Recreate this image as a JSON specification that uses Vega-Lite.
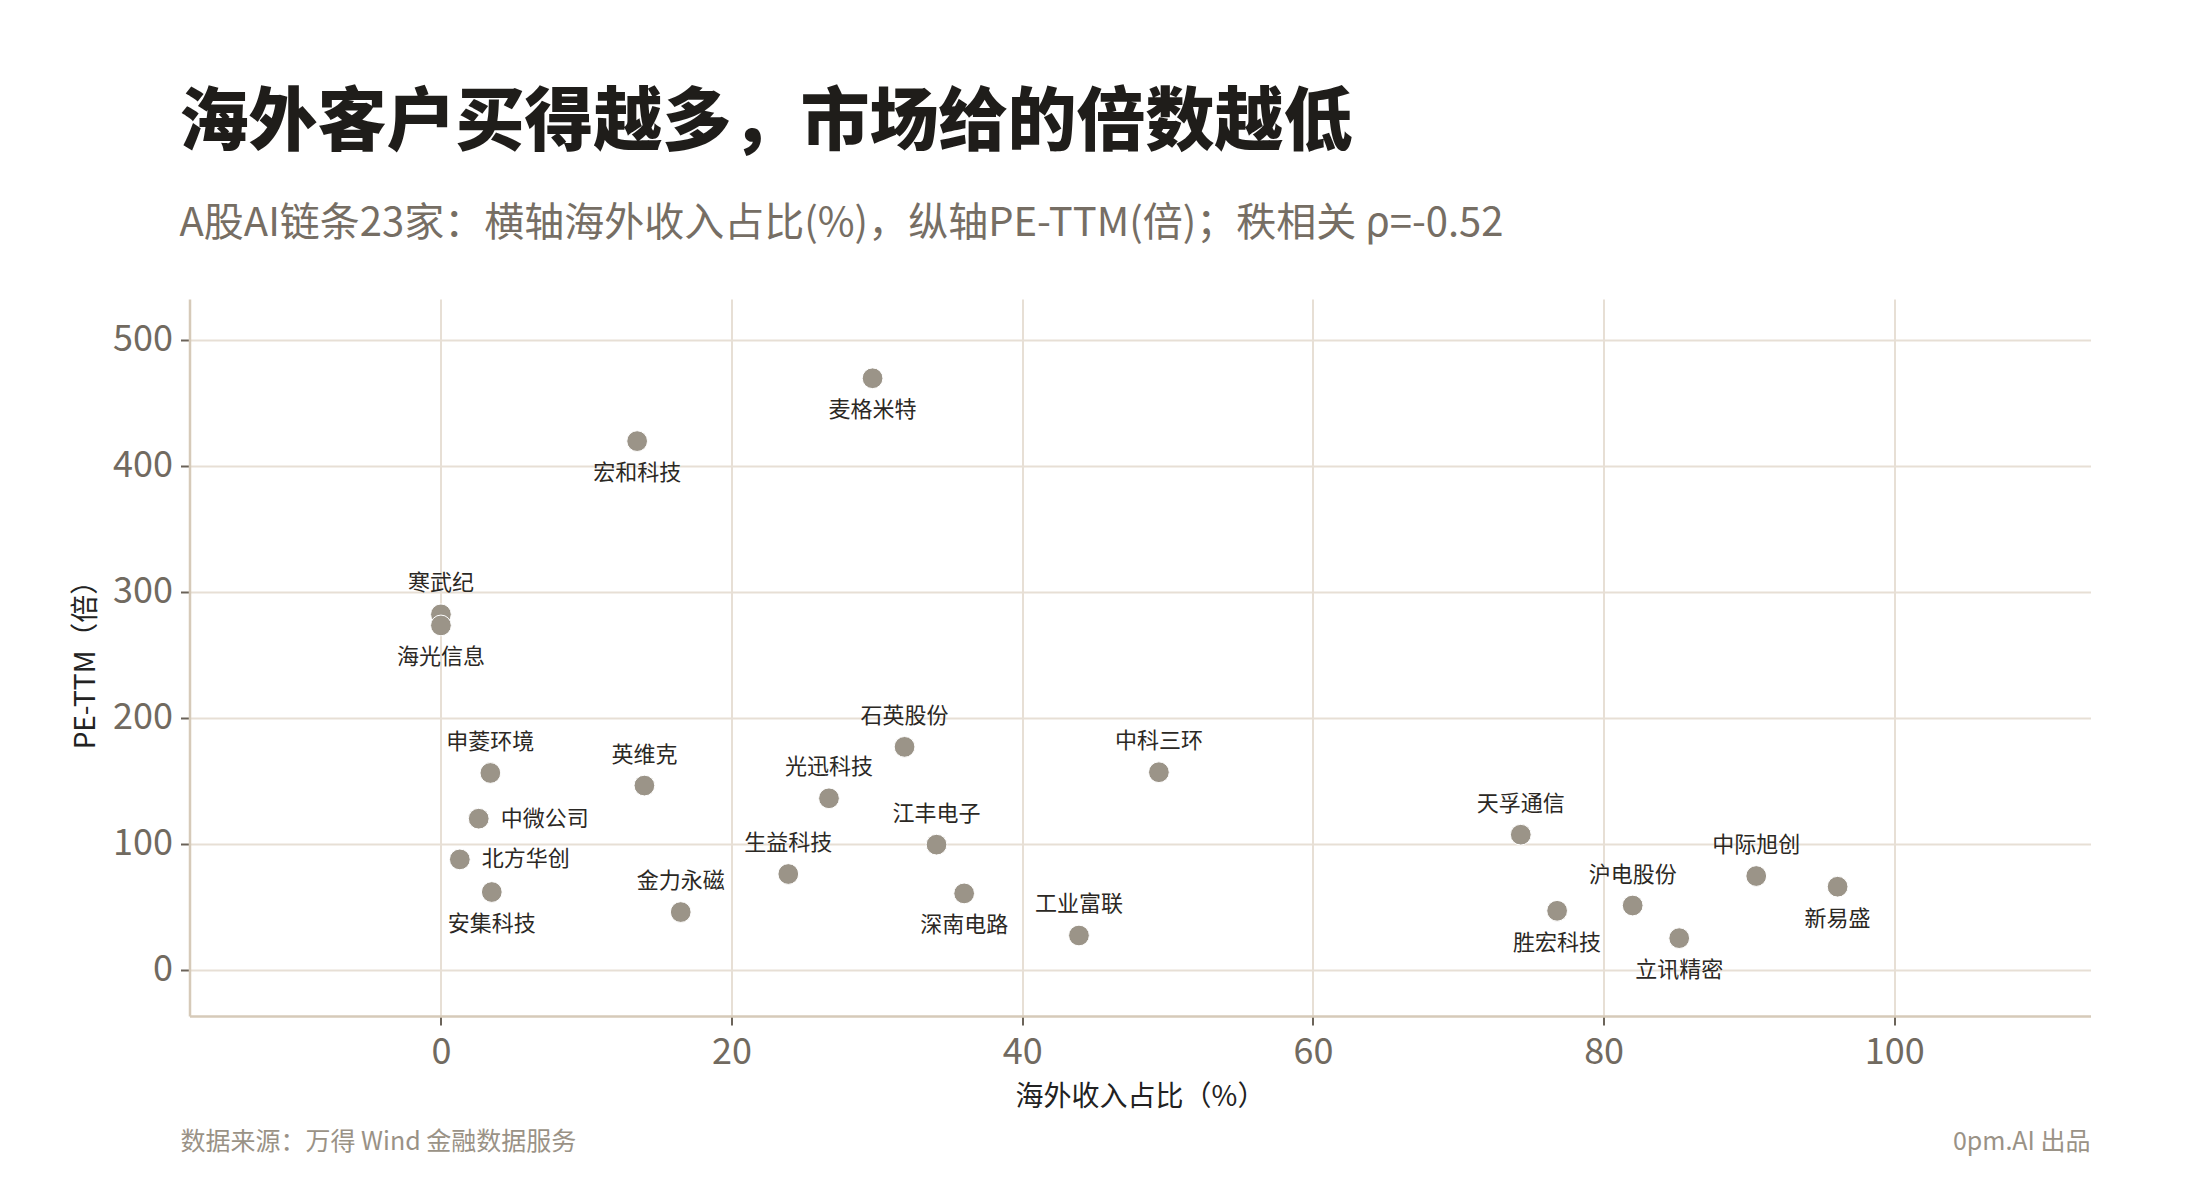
{
  "$schema": "https://vega.github.io/schema/vega-lite/v6.json",
  "autosize": "none",
  "width": 1901,
  "height": 717,
  "padding": {"left": 189.5, "top": 299, "right": 109.5, "bottom": 184},
  "background": "#ffffff",
  "title": {
    "text": "海外客户买得越多，市场给的倍数越低",
    "subtitle": "A股AI链条23家：横轴海外收入占比(%)，纵轴PE-TTM(倍)；秩相关 ρ=-0.52",
    "anchor": "start",
    "frame": "group",
    "dx": -10,
    "offset": 55,
    "fontSize": 69,
    "fontWeight": 900,
    "color": "#1f1d1a",
    "subtitleFontSize": 40,
    "subtitleColor": "#766e64",
    "subtitlePadding": 45
  },
  "datasets": {
    "stocks": [
      {"name": "麦格米特", "overseas": 29.7, "pe": 469.6},
      {"name": "宏和科技", "overseas": 13.5, "pe": 419.7},
      {"name": "寒武纪", "overseas": 0.0, "pe": 282.2},
      {"name": "海光信息", "overseas": 0.0, "pe": 273.4},
      {"name": "申菱环境", "overseas": 3.4, "pe": 156.3},
      {"name": "中微公司", "overseas": 2.6, "pe": 120.0},
      {"name": "北方华创", "overseas": 1.3, "pe": 87.7},
      {"name": "安集科技", "overseas": 3.5, "pe": 61.8},
      {"name": "英维克", "overseas": 14.0, "pe": 146.3},
      {"name": "金力永磁", "overseas": 16.5, "pe": 45.9},
      {"name": "生益科技", "overseas": 23.9, "pe": 76.1},
      {"name": "光迅科技", "overseas": 26.7, "pe": 136.2},
      {"name": "石英股份", "overseas": 31.9, "pe": 177.0},
      {"name": "江丰电子", "overseas": 34.1, "pe": 99.4},
      {"name": "深南电路", "overseas": 36.0, "pe": 60.7},
      {"name": "工业富联", "overseas": 43.9, "pe": 27.3},
      {"name": "中科三环", "overseas": 49.4, "pe": 156.9},
      {"name": "天孚通信", "overseas": 74.3, "pe": 107.3},
      {"name": "胜宏科技", "overseas": 76.8, "pe": 46.9},
      {"name": "沪电股份", "overseas": 82.0, "pe": 51.1},
      {"name": "立讯精密", "overseas": 85.2, "pe": 25.2},
      {"name": "中际旭创", "overseas": 90.5, "pe": 74.5},
      {"name": "新易盛", "overseas": 96.1, "pe": 66.0}
    ]
  },
  "layer": [
    {
      "data": {"name": "stocks"},
      "encoding": {
        "x": {
          "field": "overseas",
          "type": "quantitative",
          "title": "海外收入占比（%）",
          "scale": {"domain": [-17.3, 113.5], "nice": false, "zero": false},
          "axis": {"values": [0, 20, 40, 60, 80, 100]}
        },
        "y": {
          "field": "pe",
          "type": "quantitative",
          "title": "PE-TTM（倍）",
          "scale": {"domain": [-36.6, 532.5], "nice": false, "zero": false},
          "axis": {"values": [0, 100, 200, 300, 400, 500]}
        }
      },
      "layer": [
        {
          "mark": {"type": "circle", "size": 430, "color": "#9b9488", "opacity": 1, "stroke": "#ffffff", "strokeWidth": 1}
        },
        {
          "transform": [{"filter": {"field": "name", "oneOf": ["寒武纪", "申菱环境", "英维克", "金力永磁", "生益科技", "光迅科技", "石英股份", "江丰电子", "工业富联", "中科三环", "天孚通信", "沪电股份", "中际旭创"]}}],
          "mark": {"type": "text", "fontSize": 22, "color": "#2b2824", "baseline": "middle", "align": "center", "dy": -31},
          "encoding": {"text": {"field": "name"}}
        },
        {
          "transform": [{"filter": {"field": "name", "oneOf": ["麦格米特", "宏和科技", "海光信息", "安集科技", "深南电路", "胜宏科技", "立讯精密", "新易盛"]}}],
          "mark": {"type": "text", "fontSize": 22, "color": "#2b2824", "baseline": "middle", "align": "center", "dy": 32},
          "encoding": {"text": {"field": "name"}}
        },
        {
          "transform": [{"filter": {"field": "name", "oneOf": ["中微公司", "北方华创"]}}],
          "mark": {"type": "text", "fontSize": 22, "color": "#2b2824", "baseline": "middle", "align": "left", "dx": 22},
          "encoding": {"text": {"field": "name"}}
        }
      ]
    },
    {
      "data": {"values": [{"note": "数据来源：万得 Wind 金融数据服务"}]},
      "mark": {"type": "text", "fontSize": 25, "color": "#9a9286", "baseline": "middle", "align": "left", "dx": -9, "clip": false},
      "encoding": {
        "x": {"datum": -17.3, "type": "quantitative", "title": "海外收入占比（%）", "axis": {"values": [0, 20, 40, 60, 80, 100]}},
        "y": {"datum": -136.7, "type": "quantitative", "title": "PE-TTM（倍）", "axis": {"values": [0, 100, 200, 300, 400, 500]}},
        "text": {"field": "note", "type": "nominal"}
      }
    },
    {
      "data": {"values": [{"note": "0pm.AI 出品"}]},
      "mark": {"type": "text", "fontSize": 25, "color": "#9a9286", "baseline": "middle", "align": "right", "clip": false},
      "encoding": {
        "x": {"datum": 113.5, "type": "quantitative", "title": "海外收入占比（%）", "axis": {"values": [0, 20, 40, 60, 80, 100]}},
        "y": {"datum": -136.7, "type": "quantitative", "title": "PE-TTM（倍）", "axis": {"values": [0, 100, 200, 300, 400, 500]}},
        "text": {"field": "note", "type": "nominal"}
      }
    }
  ],
  "config": {
    "font": "Noto Sans CJK SC",
    "view": {"stroke": null},
    "axis": {
      "labelFont": "Noto Sans CJK SC",
      "labelFontSize": 36,
      "labelColor": "#716a60",
      "titleFont": "Noto Sans CJK SC",
      "titleFontSize": 28,
      "titleFontWeight": "normal",
      "titleColor": "#222222",
      "domainColor": "#d6cab9",
      "domainWidth": 2.5,
      "gridColor": "#e7dfd5",
      "gridWidth": 2,
      "tickColor": "#6b6359",
      "tickWidth": 2,
      "tickSize": 9
    },
    "axisX": {"labelPadding": 10, "titlePadding": 13},
    "axisY": {"labelPadding": 8, "titlePadding": 12}
  }
}
